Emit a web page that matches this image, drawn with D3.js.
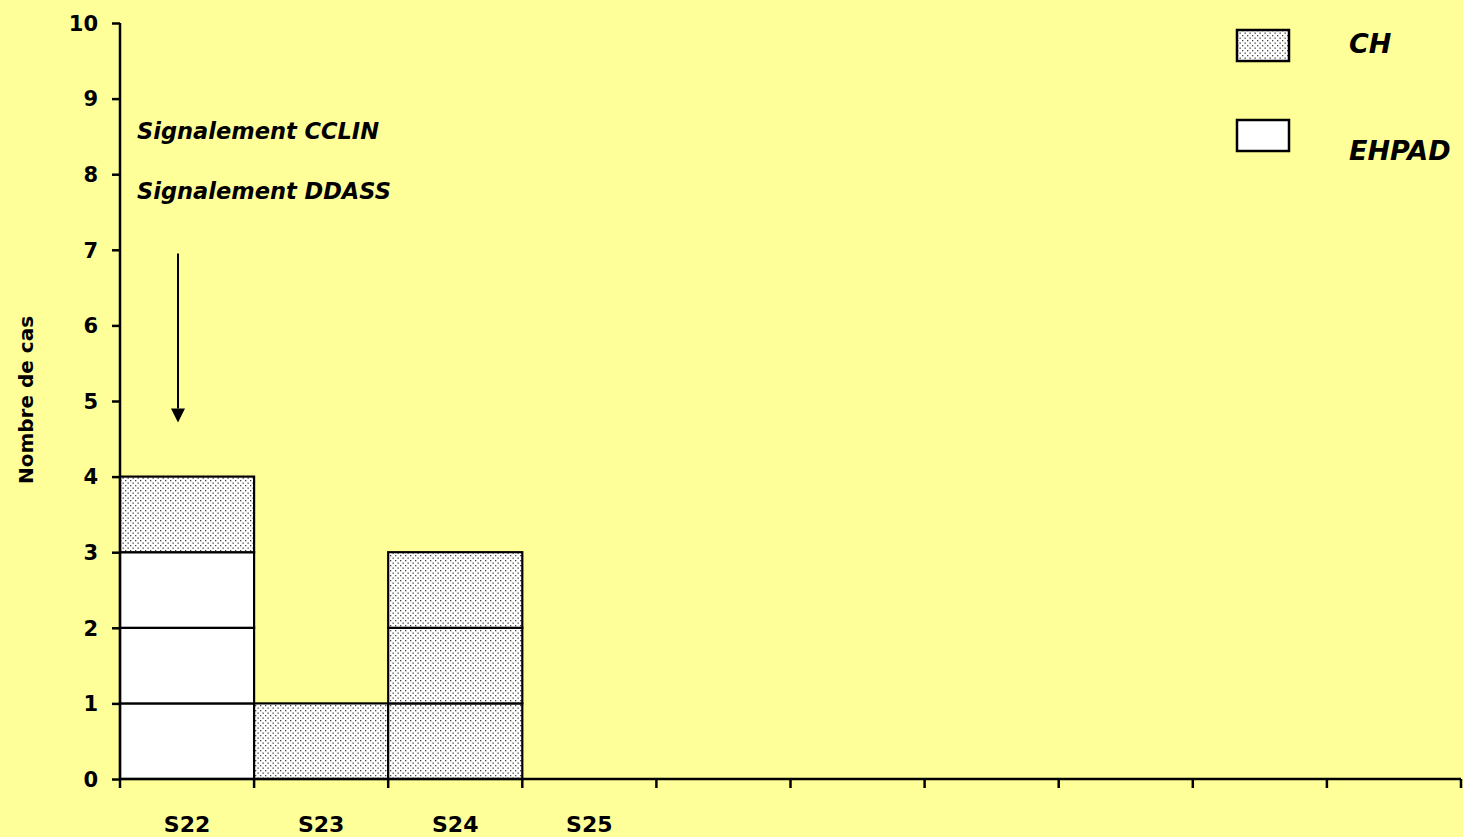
<!DOCTYPE html>
<html>
<head>
<meta charset="utf-8">
<script src="https://cdn.jsdelivr.net/npm/d3@7"></script>
<style>
  html, body { margin: 0; padding: 0; background: #ffff99; }
  svg text { font-family: "DejaVu Sans", sans-serif; font-weight: bold; fill: #000; }
</style>
</head>
<body>
<div id="chart"></div>
<script>
// weeks (only the first four are labelled)
var weeks = ['S22', 'S23', 'S24', 'S25', '', ' ', '  ', '   ', '    ', '     '];
var ehpad = [3, 0, 0, 0, 0, 0, 0, 0, 0, 0];
var ch = [1, 1, 3, 0, 0, 0, 0, 0, 0, 0];
var yTicks = [0, 1, 2, 3, 4, 5, 6, 7, 8, 9, 10];
var seriesNames = ['CH', 'EHPAD'];
var notes = ['Signalement CCLIN', 'Signalement DDASS'];

var width = 1463;
var height = 837;
var margin = { top: 23, right: 2, bottom: 58, left: 120 };

var svg = d3.select('#chart')
  .append('svg')
  .attr('width', width)
  .attr('height', height)
  .style('display', 'block');

svg.append('rect')
  .attr('width', width)
  .attr('height', height)
  .attr('fill', '#ffff99');

// dotted fill for CH
var pat = svg.append('defs').append('pattern')
  .attr('id', 'dots')
  .attr('patternUnits', 'userSpaceOnUse')
  .attr('width', 5)
  .attr('height', 5);
pat.append('rect').attr('width', 5).attr('height', 5).attr('fill', '#fff');
pat.append('rect').attr('x', 0).attr('y', 0).attr('width', 1.3).attr('height', 1.3).attr('fill', '#444');
pat.append('rect').attr('x', 2.5).attr('y', 2.5).attr('width', 1.3).attr('height', 1.3).attr('fill', '#444');

var x = d3.scaleBand()
  .domain(weeks)
  .range([margin.left, width - margin.right])
  .padding(0);

var y = d3.scaleLinear()
  .domain([0, 10])
  .range([height - margin.bottom, margin.top]);

// one box per case: EHPAD at the bottom, CH on top
var boxes = [];
weeks.forEach(function(w, i) {
  for (var k = 0; k < ehpad[i]; k++) boxes.push({ week: w, level: k, type: 'EHPAD' });
  for (var k = 0; k < ch[i]; k++) boxes.push({ week: w, level: ehpad[i] + k, type: 'CH' });
});

svg.selectAll('rect.box')
  .data(boxes)
  .enter()
  .append('rect')
  .attr('class', 'box')
  .attr('x', function(d) { return x(d.week); })
  .attr('y', function(d) { return y(d.level + 1); })
  .attr('width', x.bandwidth())
  .attr('height', function(d) { return y(d.level) - y(d.level + 1); })
  .attr('fill', function(d) { return d.type === 'CH' ? 'url(#dots)' : '#fff'; })
  .attr('stroke', '#000')
  .attr('stroke-width', 2.2);

// y axis
var yAxis = svg.append('g')
  .attr('transform', 'translate(' + margin.left + ',0)')
  .call(d3.axisLeft(y).tickValues(yTicks).tickSize(8).tickPadding(14).tickFormat(d3.format('d')));
yAxis.select('.domain').attr('stroke', '#000').attr('stroke-width', 2.5).attr('d', 'M0,' + (y(10)) + 'V' + y(0));
yAxis.selectAll('.tick line').attr('stroke', '#000').attr('stroke-width', 2.5);
yAxis.selectAll('.tick text').style('font-size', '21px').attr('dy', '0.35em');

// x axis
var xAxis = svg.append('g')
  .attr('transform', 'translate(0,' + y(0) + ')')
  .call(d3.axisBottom(x).tickSize(0).tickPadding(37));
xAxis.select('.domain').attr('stroke', '#000').attr('stroke-width', 2.5).attr('d', 'M' + margin.left + ',0H' + (width - margin.right));
xAxis.selectAll('.tick text').style('font-size', '22px');

var edges = weeks.map(function(w) { return x(w); }).concat([x(weeks[weeks.length - 1]) + x.bandwidth()]);
xAxis.selectAll('line.edge')
  .data(edges)
  .enter()
  .append('line')
  .attr('class', 'edge')
  .attr('x1', function(d) { return d; })
  .attr('x2', function(d) { return d; })
  .attr('y1', 0)
  .attr('y2', 9)
  .attr('stroke', '#000')
  .attr('stroke-width', 2.5);

// y title
svg.append('text')
  .attr('transform', 'translate(33,' + (y(5) - 1) + ') rotate(-90)')
  .attr('text-anchor', 'middle')
  .style('font-size', '20px')
  .text('Nombre de cas');

// annotations
svg.selectAll('text.note')
  .data(notes)
  .enter()
  .append('text')
  .attr('class', 'note')
  .attr('x', 137)
  .attr('y', function(d, i) { return y(8.47) + i * 60; })
  .style('font-size', '22.5px')
  .style('font-style', 'italic')
  .text(function(d) { return d; });

var ax = x('S22') + 58;
svg.append('line')
  .attr('x1', ax).attr('x2', ax)
  .attr('y1', y(6.95)).attr('y2', y(4.9))
  .attr('stroke', '#000')
  .attr('stroke-width', 2);
svg.append('path')
  .attr('d', 'M' + (ax - 7) + ',' + y(4.9) + 'L' + (ax + 7) + ',' + y(4.9) + 'L' + ax + ',' + (y(4.9) + 14) + 'Z')
  .attr('fill', '#000');

// legend
var legend = svg.selectAll('g.legend')
  .data(seriesNames)
  .enter()
  .append('g')
  .attr('class', 'legend')
  .attr('transform', function(d, i) { return 'translate(1237,' + (30 + i * 90) + ')'; });
legend.append('rect')
  .attr('width', 52)
  .attr('height', 31)
  .attr('fill', function(d) { return d === 'CH' ? 'url(#dots)' : '#fff'; })
  .attr('stroke', '#000')
  .attr('stroke-width', 2.5);
legend.append('text')
  .attr('x', 112)
  .attr('y', function(d, i) { return i === 0 ? 23 : 40; })
  .style('font-size', '27px')
  .style('font-style', 'italic')
  .text(function(d) { return d; });
</script>
</body>
</html>
